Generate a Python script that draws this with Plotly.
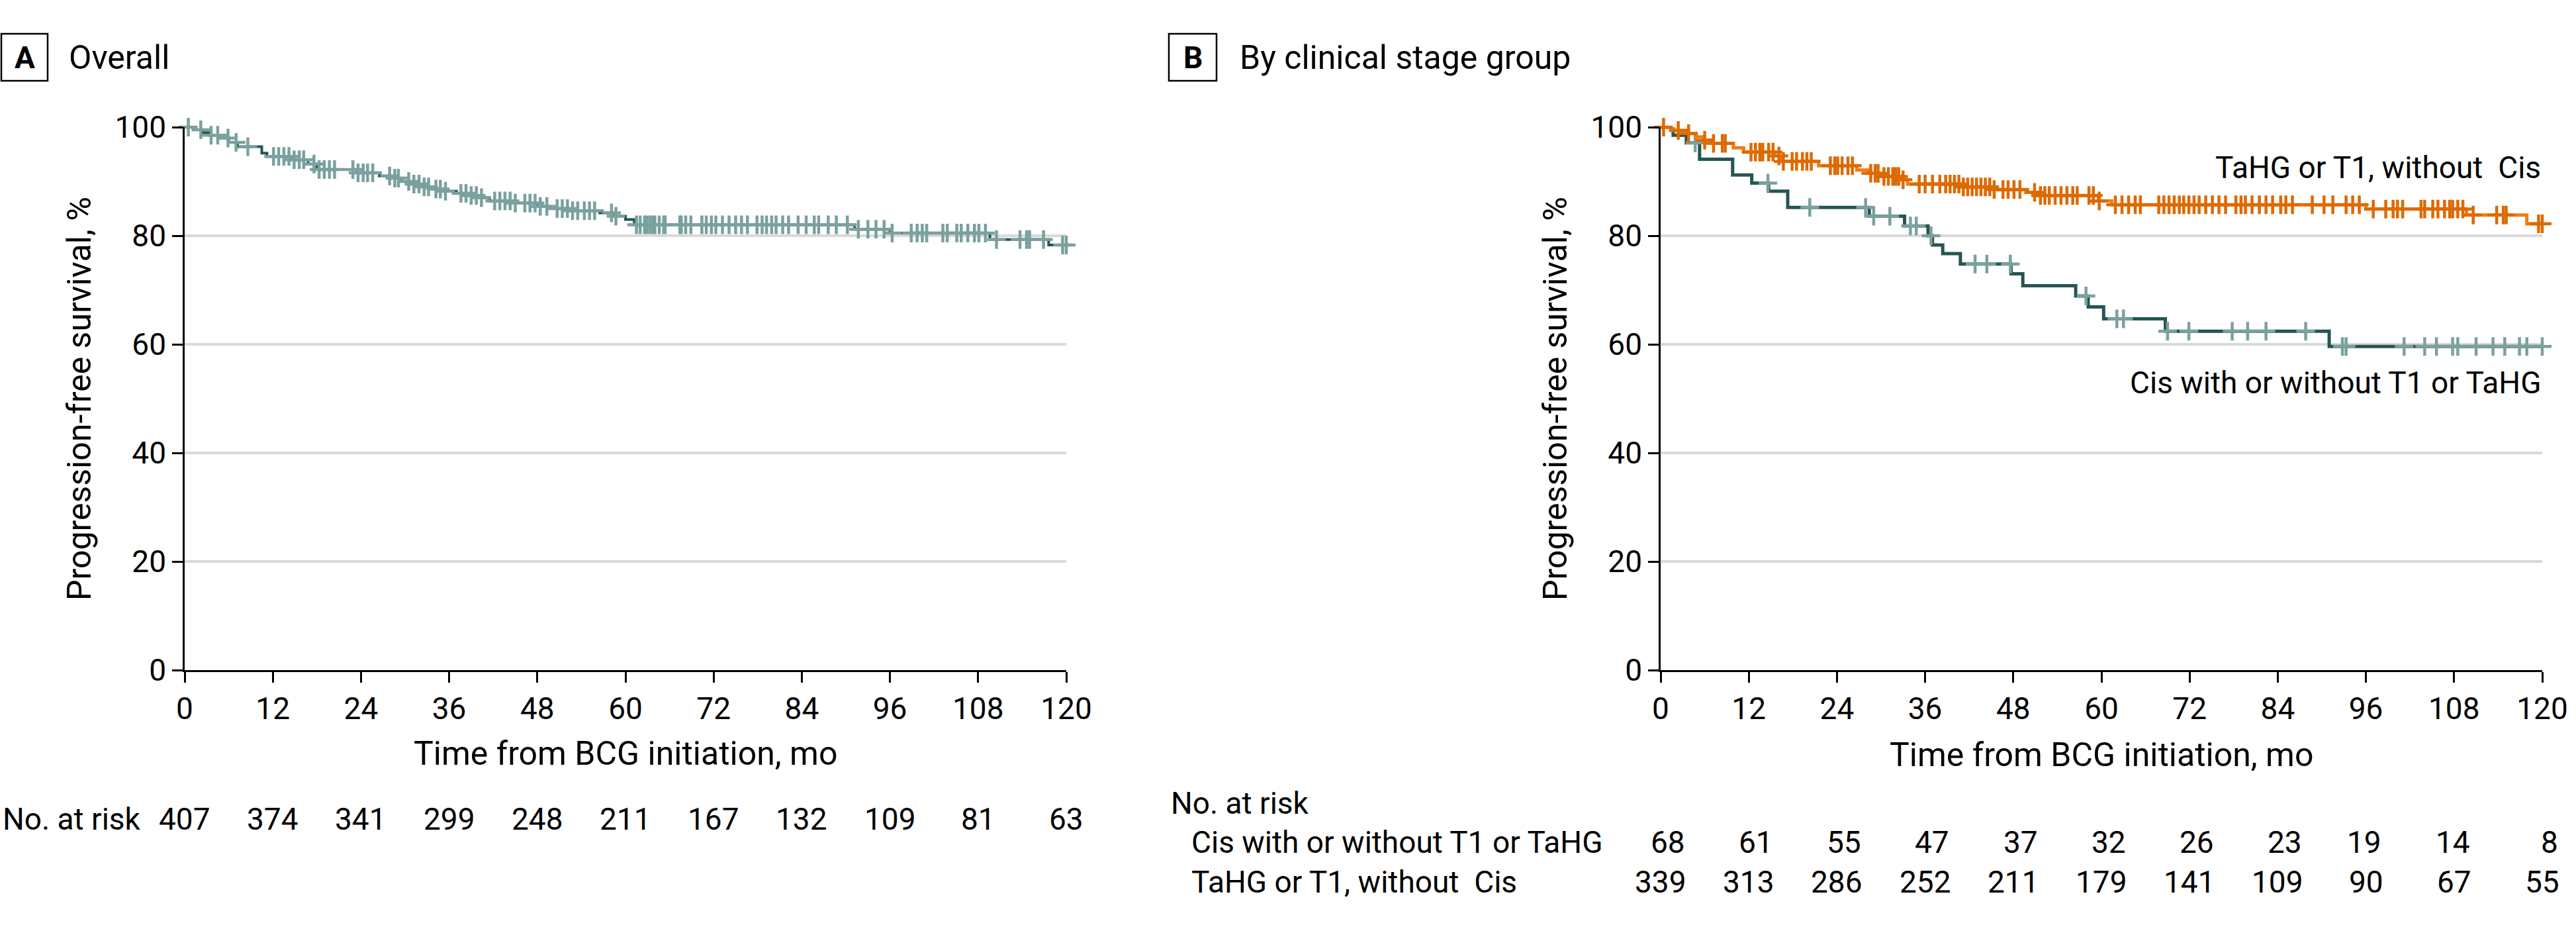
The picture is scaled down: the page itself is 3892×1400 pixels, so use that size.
import numpy as np
import plotly.graph_objects as go

W, H = 3892, 1400
FONT = "Roboto"

# ---------------- data ----------------
months_ticks = [0, 12, 24, 36, 48, 60, 72, 84, 96, 108, 120]

# Panel A: overall KM (event times, survival %)
overall_t = [0, 1.2, 2.5, 3.6, 4.8, 6.0, 7.2, 10.5, 11.2, 14.5, 16.8, 18.0, 23.5, 26.5, 28.0,
             29.5, 31.0, 32.5, 34.0, 35.5, 37.0, 38.5, 40.0, 41.5, 44.5, 48.0, 50.0, 52.5, 56.5,
             58.5, 60.0, 61.2, 91.2, 96.0, 109.6, 117.6]
overall_s = [100, 99.5, 99.0, 98.5, 98.0, 97.2, 96.4, 95.2, 94.6, 94.0, 93.2, 92.2, 91.6, 91.0, 90.6,
             90.0, 89.5, 89.0, 88.6, 88.2, 87.8, 87.4, 87.0, 86.4, 86.0, 85.4, 85.0, 84.6, 84.2,
             83.6, 83.0, 82.0, 81.2, 80.5, 79.3, 78.3]
overall_cens = [0.5, 2.2, 3.6, 4.5, 5.9, 7.0, 8.6, 12.1, 12.8, 13.5, 14.2, 14.9, 15.6, 16.2, 17.6,
                18.3, 19.0, 19.7, 20.4, 22.9, 23.6, 24.3, 24.9, 25.6, 27.9, 28.6, 29.1, 30.5, 31.2,
                31.9, 32.6, 33.2, 34.2, 34.8, 35.5, 37.6, 38.3, 39.0, 39.7, 40.4, 42.2, 42.9, 43.6,
                44.3, 45.0, 46.3, 47.0, 47.7, 48.4, 49.3, 50.7, 51.4, 52.1, 52.8, 53.5, 54.4, 55.1,
                55.8, 58.1, 58.7, 61.5, 62.0, 62.6, 62.9, 63.3, 63.7, 64.0, 64.6, 65.2, 65.4, 67.4,
                67.6, 68.2, 68.9, 70.4, 71.0, 71.7, 72.3, 73.2, 74.1, 75.0, 75.8, 76.6, 77.9, 78.6,
                79.2, 79.9, 80.5, 81.4, 82.2, 83.5, 84.6, 85.7, 86.3, 87.6, 88.7, 90.2, 91.7, 93.0,
                94.1, 95.2, 96.3, 98.9, 99.7, 100.4, 101.0, 103.2, 103.8, 105.1, 105.7, 106.6,
                107.5, 108.1, 109.0, 110.5, 113.7, 114.6, 115.0, 116.9, 119.5, 120.0]
overall_risk = [407, 374, 341, 299, 248, 211, 167, 132, 109, 81, 63]

# Panel B: Cis with or without T1 or TaHG
cis_t = [0, 1.7, 3.5, 5.3, 9.8, 12.4, 14.7, 17.3, 28.4, 33.2, 36.4, 37.0, 38.4, 40.8, 47.7, 49.3,
         56.5, 58.2, 60.3, 68.7, 91.0]
cis_s = [100, 98.5, 97.1, 94.1, 91.2, 89.7, 88.2, 85.2, 83.6, 81.8, 80.0, 78.3, 76.7, 74.8, 73.0,
         70.8, 68.9, 66.9, 64.7, 62.4, 59.6]
cis_cens = [4.7, 14.6, 20.3, 27.9, 29.0, 31.2, 34.0, 34.8, 36.8, 42.8, 44.4, 47.6, 57.9, 62.1, 63.0,
            69.0, 71.9, 77.8, 79.9, 82.4, 87.8, 92.8, 93.3, 101.2, 104.0, 105.6, 107.8, 108.5,
            111.0, 113.3, 114.9, 116.9, 117.9, 120.0]
cis_risk = [68, 61, 55, 47, 37, 32, 26, 23, 19, 14, 8]

# Panel B: TaHG or T1, without Cis
tahg_t = [0, 1.8, 3.8, 4.8, 5.8, 7.0, 9.9, 11.3, 15.5, 16.3, 21.5, 26.7, 28.3, 29.9, 32.8, 33.6,
          41.2, 45.3, 49.7, 51.3, 59.6, 61.4, 96.0, 109.7, 117.9]
tahg_s = [100, 99.4, 98.8, 98.2, 97.6, 97.0, 96.2, 95.4, 94.7, 93.7, 92.9, 92.1, 91.5, 90.9, 90.3,
          89.5, 89.0, 88.5, 88.0, 87.4, 86.4, 85.7, 84.9, 83.8, 82.2]
tahg_cens = [0.4, 2.4, 3.8, 6.0, 7.2, 8.4, 8.8, 12.3, 12.9, 13.5, 13.9, 14.7, 15.3, 16.1, 16.7,
             17.9, 18.5, 19.3, 19.9, 20.5, 23.1, 23.7, 24.1, 24.7, 25.5, 26.1, 28.6, 29.2, 29.6,
             30.4, 31.0, 31.6, 32.0, 32.4, 33.0, 35.2, 36.0, 37.0, 38.0, 38.8, 39.4, 40.0, 40.6,
             41.2, 41.8, 42.4, 43.0, 43.6, 44.2, 44.8, 45.4, 46.6, 47.3, 48.1, 48.9, 50.9, 51.7,
             52.3, 52.9, 53.7, 54.5, 55.3, 56.1, 56.7, 58.3, 58.9, 59.7, 61.9, 62.8, 63.7, 64.6,
             65.3, 67.8, 68.5, 69.2, 69.9, 70.6, 71.2, 71.9, 72.6, 73.3, 74.2, 75.1, 76.0, 76.9,
             78.3, 79.0, 79.6, 80.5, 81.5, 82.4, 83.3, 84.4, 85.1, 86.0, 88.7, 90.3, 91.5, 93.3,
             94.2, 95.1, 97.0, 98.7, 99.7, 100.3, 101.0, 103.5, 104.0, 105.1, 105.8, 106.7, 107.4,
             107.8, 108.5, 109.2, 110.6, 113.8, 114.7, 115.1, 119.5, 120.0]
tahg_risk = [339, 313, 286, 252, 211, 179, 141, 109, 90, 67, 55]

# ---------------- styling ----------------
TEAL = "#255553"
TEAL_C = "#7aa19e"
ORANGE = "#f07d16"
ORANGE_C = "#dd6a00"
GRID = "#d9d9d9"


def px_x(p):
    return p / W


def px_y(p):
    return 1 - p / H


def step_value(ts, ss, t):
    i = np.searchsorted(np.array(ts), t, side="right") - 1
    return ss[max(i, 0)]


fig = go.Figure()


def add_km(xaxis, yaxis, ts, ss, cens, lc, cc, lw):
    fig.add_trace(go.Scatter(x=list(ts) + [120], y=list(ss) + [ss[-1]], mode="lines",
                             line=dict(color=lc, width=lw, shape="hv"), xaxis=xaxis, yaxis=yaxis,
                             cliponaxis=False, hoverinfo="skip", showlegend=False))
    fig.add_trace(go.Scatter(x=cens, y=[step_value(ts, ss, c) for c in cens], mode="markers",
                             marker=dict(symbol="cross-thin", size=20, color=cc,
                                         line=dict(width=4.5, color=cc)),
                             xaxis=xaxis, yaxis=yaxis, cliponaxis=False, hoverinfo="skip",
                             showlegend=False))


add_km("x", "y", overall_t, overall_s, overall_cens, TEAL, TEAL_C, 4)
add_km("x2", "y2", cis_t, cis_s, cis_cens, TEAL, TEAL_C, 5)
add_km("x2", "y2", tahg_t, tahg_s, tahg_cens, ORANGE, ORANGE_C, 5)

ydom = [px_y(1012), px_y(192)]
xdomA = [px_x(279), px_x(1611)]
xdomB = [px_x(2509), px_x(3841)]

xcommon = dict(range=[0, 120], tickvals=months_ticks, ticks="outside", ticklen=16, tickwidth=2.5,
               tickcolor="black", showline=True, linecolor="black", linewidth=2.5, showgrid=False,
               zeroline=False, automargin=False, tickfont=dict(family=FONT, size=46, color="black"))
ycommon = dict(range=[0, 100], tickvals=[0, 20, 40, 60, 80, 100], ticks="outside", ticklen=16,
               tickwidth=2.5, tickcolor="black", showline=True, linecolor="black", linewidth=2.5,
               showgrid=True, gridcolor=GRID, gridwidth=4, zeroline=False, automargin=False,
               tickfont=dict(family=FONT, size=46, color="black"))

fig.update_layout(
    width=W, height=H, autosize=False,
    margin=dict(l=0, r=0, t=0, b=0, pad=0, autoexpand=False),
    paper_bgcolor="white", plot_bgcolor="white",
    font=dict(family=FONT, color="black"),
    showlegend=False,
    xaxis=dict(domain=xdomA, anchor="y", **xcommon),
    yaxis=dict(domain=ydom, anchor="x", **ycommon),
    xaxis2=dict(domain=xdomB, anchor="y2", **xcommon),
    yaxis2=dict(domain=ydom, anchor="x2", **ycommon),
)

ann = []


def txt(x, y, s, size=46, xanchor="left", xref="paper", xshift=0, bold=False, angle=0):
    ann.append(dict(x=x, y=y, xref=xref, yref="paper", text=("<b>%s</b>" % s) if bold else s,
                    showarrow=False, xanchor=xanchor, yanchor="middle", xshift=xshift,
                    textangle=angle, font=dict(family=FONT, size=size, color="black")))


# panel headers
shapes = []
for (x0, x1), letter, title, tx in [((2, 72), "A", "Overall", 102),
                                    ((1766, 1838), "B", "By clinical stage group", 1871)]:
    shapes.append(dict(type="rect", xref="paper", yref="paper", x0=px_x(x0), x1=px_x(x1),
                       y0=px_y(122), y1=px_y(51), line=dict(color="black", width=2.5)))
    txt(px_x((x0 + x1) / 2), px_y(87), letter, size=46, xanchor="center", bold=True)
    txt(px_x(tx), px_y(87), title, size=50)

# axis titles
for cx in [120, 2350]:
    txt(px_x(cx), px_y(602), "Progression-free survival, %", size=50, xanchor="center", angle=-90)
txt(px_x((279 + 1611) / 2), px_y(1138), "Time from BCG initiation, mo", size=50, xanchor="center")
txt(px_x((2509 + 3841) / 2), px_y(1140), "Time from BCG initiation, mo", size=50, xanchor="center")

# curve labels
txt(px_x(3841), px_y(253), "TaHG or T1, without  Cis", xanchor="right")
txt(px_x(3841), px_y(578), "Cis with or without T1 or TaHG", xanchor="right")

# number at risk, panel A
txt(px_x(2), px_y(1237), "No. at risk")
for t, n in zip(months_ticks, overall_risk):
    txt(t, px_y(1237), str(n), xanchor="center", xref="x")

# number at risk, panel B
txt(px_x(1767), px_y(1213), "No. at risk")
txt(px_x(1798), px_y(1272), "Cis with or without T1 or TaHG")
txt(px_x(1798), px_y(1332), "TaHG or T1, without  Cis")
DIGW = 25.8
for t, a, b in zip(months_ticks, cis_risk, tahg_risk):
    txt(t, px_y(1332), str(b), xanchor="center", xref="x2")
    txt(t, px_y(1272), str(a), xanchor="right", xref="x2", xshift=len(str(b)) * DIGW / 2)

fig.update_layout(annotations=ann, shapes=shapes)
fig.write_html("out.html", config={"responsive": False, "displayModeBar": False},
               post_script="document.body.style.margin='0';document.body.style.overflow='hidden';")
